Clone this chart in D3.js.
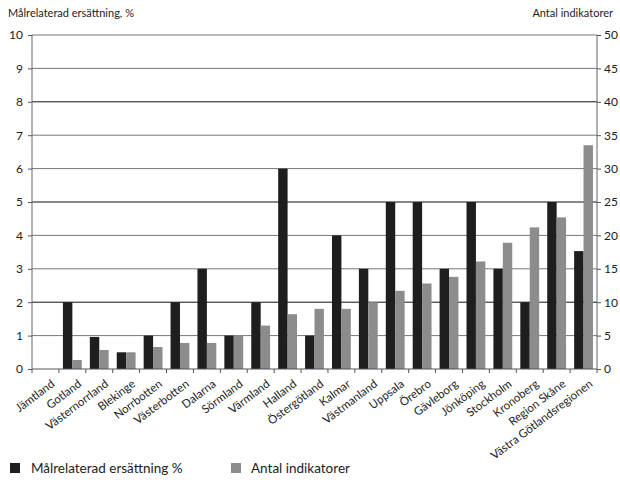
<!DOCTYPE html>
<html><head><meta charset="utf-8">
<script src="https://cdn.jsdelivr.net/npm/d3@7"></script>
<style>body{margin:0;background:#fff}svg{display:block}text{font-family:Lato,"Open Sans",sans-serif;fill:#222}</style>
</head><body><svg id="c" width="620" height="482"></svg>
<script>
const categories = ["Jämtland","Gotland","Västernorrland","Blekinge","Norrbotten","Västerbotten","Dalarna","Sörmland","Värmland","Halland","Östergötland","Kalmar","Västmanland","Uppsala","Örebro","Gävleborg","Jönköping","Stockholm","Kronoberg","Region Skåne","Västra Götlandsregionen"];
const malrelaterad = [0,2,0.96,0.5,1,2,3,1,2,6,1,4,3,5,5,3,5,3,2,5,3.53];
const indikatorer = [0,1.35,2.85,2.5,3.3,3.9,3.9,5,6.5,8.2,9.0,9.0,10.0,11.7,12.8,13.8,16.1,18.9,21.2,22.7,33.5];
const leftTicks = [0,1,2,3,4,5,6,7,8,9,10];
const rightTicks = [0,5,10,15,20,25,30,35,40,45,50];
const seriesNames = ["Målrelaterad ersättning %","Antal indikatorer"];
const colors = ["#1e1e1e","#8c8c8c"];

const svg = d3.select("#c");
const L = 32, R = 597, T = 35, B = 369;
const x = d3.scaleBand().domain(categories).range([L,R]).paddingInner(0).paddingOuter(0);
const yL = d3.scaleLinear().domain([0,10]).range([B,T]);
const yR = d3.scaleLinear().domain([0,50]).range([B,T]);
const bw = x.bandwidth()*0.35;

// gridlines
svg.append("g").selectAll("line").data(leftTicks.slice(1)).join("line")
  .attr("x1",L).attr("x2",R).attr("y1",d=>yL(d)).attr("y2",d=>yL(d))
  .attr("stroke",d=>[2,5,8].includes(d)?"#111":"#777").attr("stroke-width",1);

// bars
const g = svg.append("g");
categories.forEach((c,i)=>{
  const cx = x(c)+x.bandwidth()/2;
  g.append("rect").attr("x",cx-bw).attr("width",bw).attr("y",yL(malrelaterad[i])).attr("height",B-yL(malrelaterad[i])).attr("fill",colors[0]);
  g.append("rect").attr("x",cx).attr("width",bw).attr("y",yR(indikatorer[i])).attr("height",B-yR(indikatorer[i])).attr("fill",colors[1]);
});

// axes
const ga = svg.append("g").attr("transform",`translate(${L},0)`)
  .call(d3.axisLeft(yL).tickValues(leftTicks).tickSize(4).tickPadding(5));
const gr = svg.append("g").attr("transform",`translate(${R},0)`)
  .call(d3.axisRight(yR).tickValues(rightTicks).tickSize(4).tickPadding(3));
[ga,gr].forEach(a=>{
  a.select(".domain").attr("stroke","#666").attr("d",`M0,${T}V${B}`);
  a.selectAll(".tick line").attr("stroke","#555");
  a.selectAll("text").style("font-size","12px").style("font-family","Lato,sans-serif").attr("fill","#222");
});

// x axis
const gx = svg.append("g").attr("transform",`translate(0,${B})`);
gx.append("line").attr("x1",L).attr("x2",R).attr("stroke","#555");
gx.selectAll("line.t").data(categories.map(c=>x(c)).concat([R])).join("line").attr("class","t")
  .attr("x1",d=>d).attr("x2",d=>d).attr("y1",0).attr("y2",4).attr("stroke","#555");
gx.selectAll("text").data(categories).join("text")
  .attr("transform",c=>`translate(${x(c)+x.bandwidth()/2+5},${10}) rotate(-37)`)
  .attr("text-anchor","end").attr("dy","0.7em").style("font-size","11.5px").text(c=>c);

// titles
svg.append("text").attr("x",8).attr("y",17).style("font-size","11px").text("Målrelaterad ersättning, %");
svg.append("text").attr("x",613).attr("y",17).attr("text-anchor","end").style("font-size","11px").text("Antal indikatorer");

// legend
const lg = svg.append("g");
[[10,31],[231,251]].forEach((p,i)=>{
  lg.append("rect").attr("x",p[0]).attr("y",463).attr("width",10).attr("height",10).attr("fill",colors[i]);
  lg.append("text").attr("x",p[1]).attr("y",473).style("font-size","13.5px").text(seriesNames[i]);
});
</script></body></html>
